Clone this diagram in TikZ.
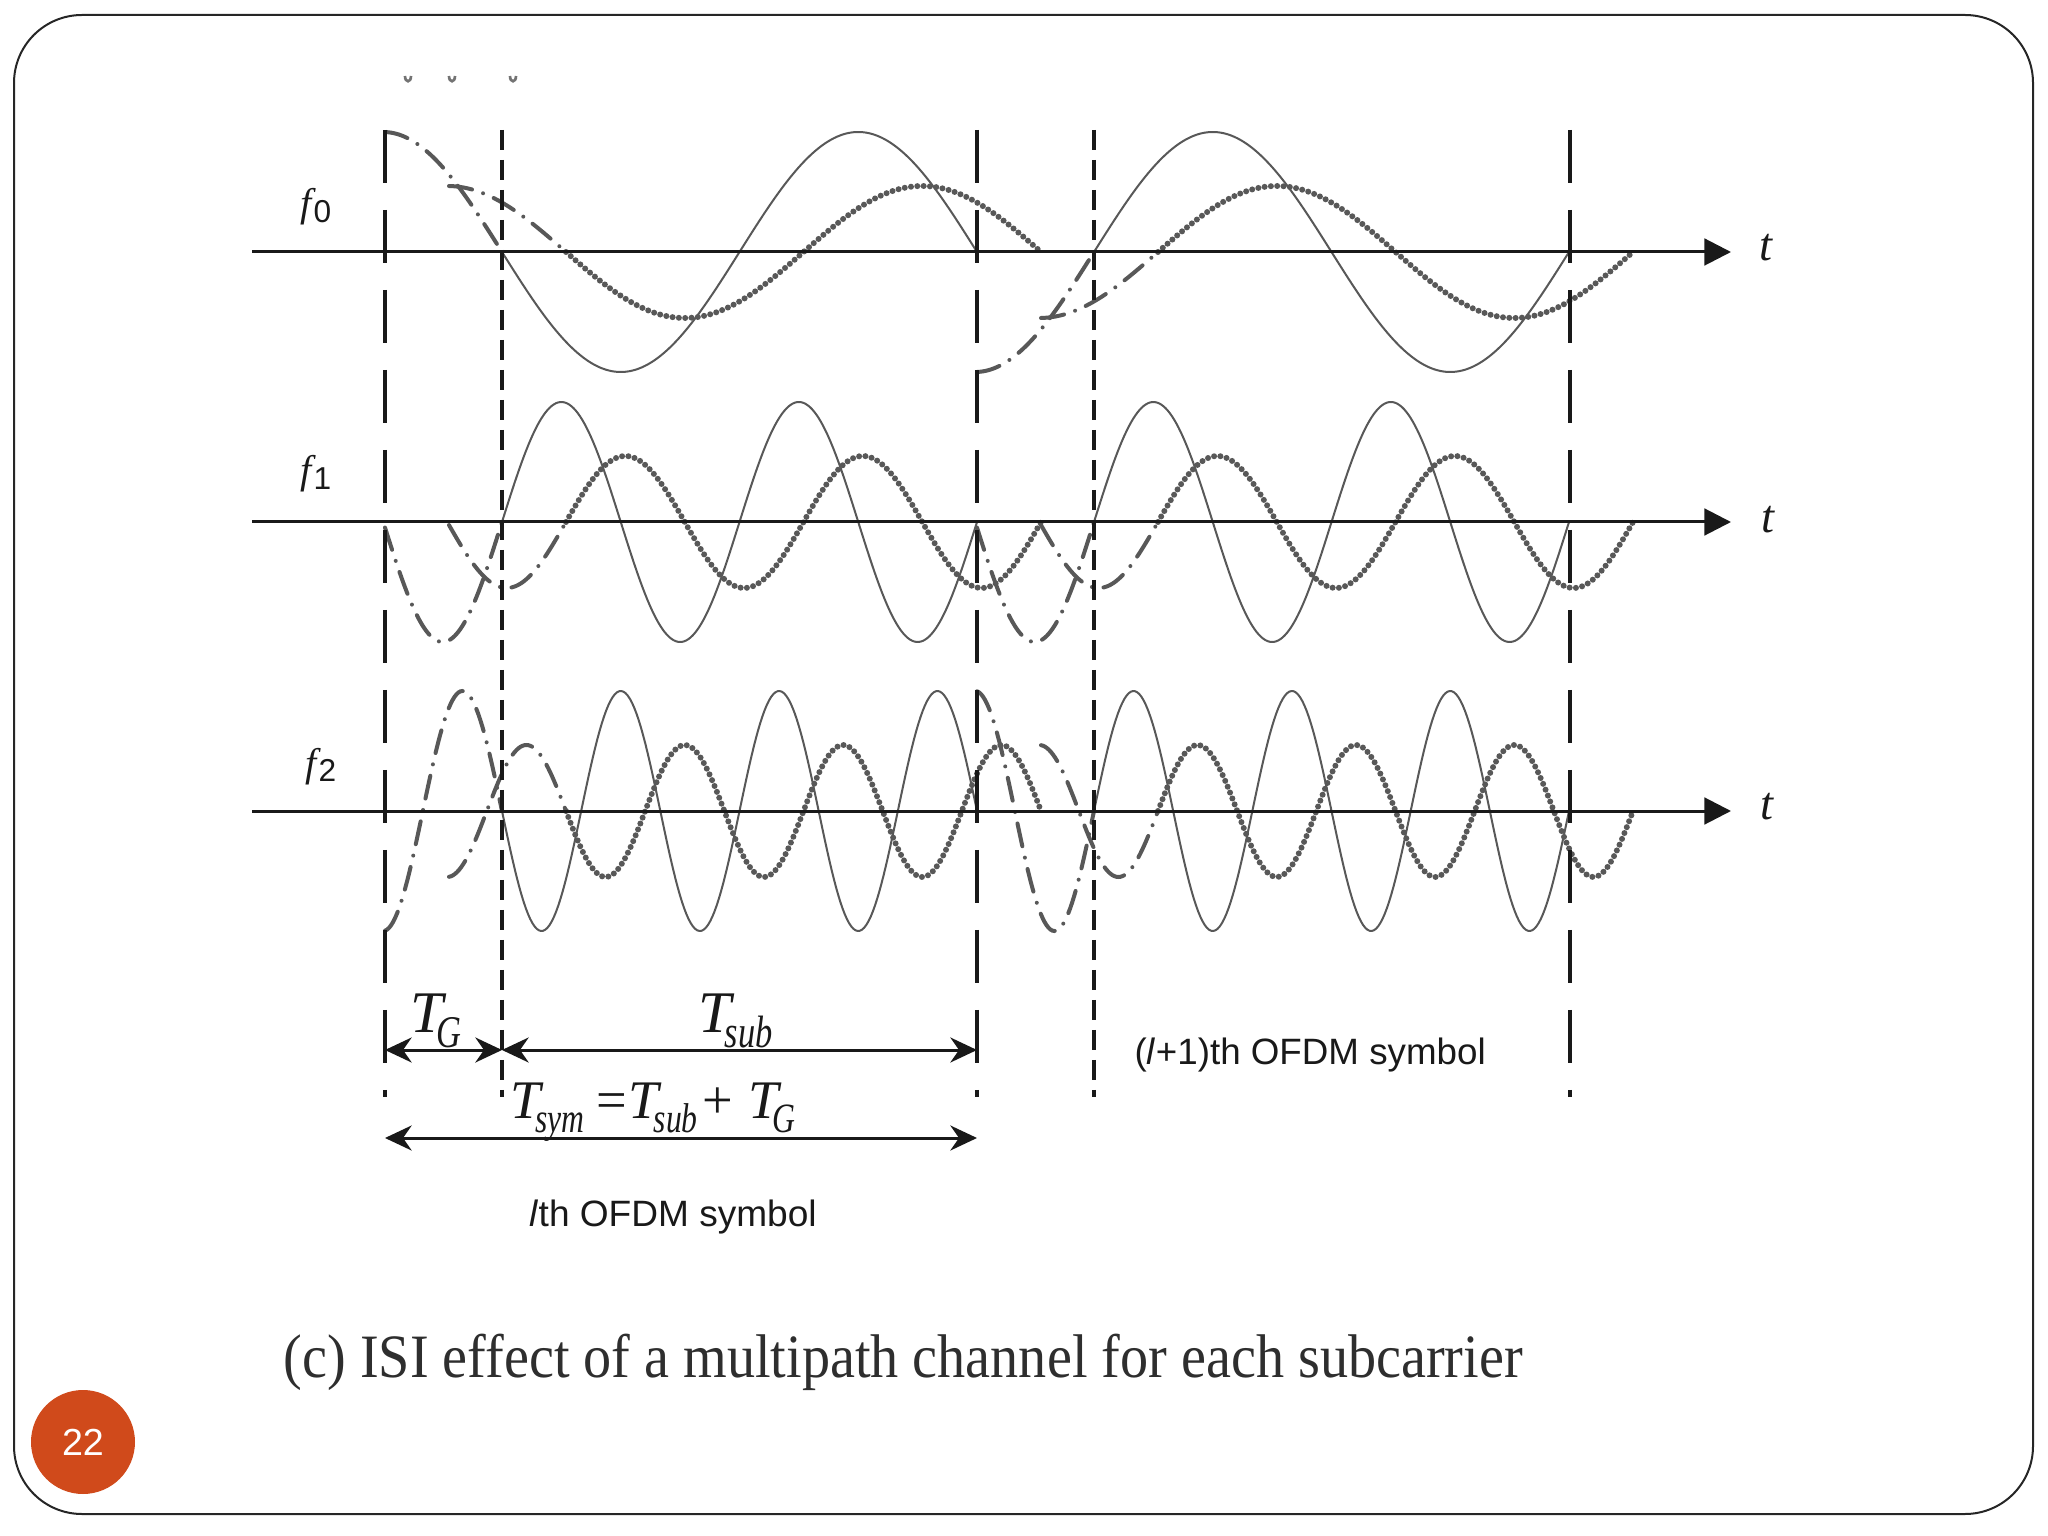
\documentclass[tikz,border=0pt]{standalone}
\usepackage{fontspec}
\usepackage{graphicx}
\setmainfont{Liberation Serif}
\newfontfamily\sansf{Liberation Sans}
\usetikzlibrary{arrows.meta}
\definecolor{pagecol}{RGB}{208,74,27}
\definecolor{wavec}{RGB}{88,88,88}
\definecolor{inkc}{RGB}{25,25,25}

% one subcarrier row: #1 axis y, #2 periods k, #3 sign symbol l, #4 sign symbol l+1
\newcommand\waverow[4]{%
  \draw[cpwave] plot[domain=385:502, samples=60] (\x, {#1 - (#3)*120*sin(((\x-502)/475)*360*#2)});
  \draw[solidwave] plot[domain=502:977, samples=220] (\x, {#1 - (#3)*120*sin(((\x-502)/475)*360*#2)});
  \draw[cpwave] plot[domain=449:566, samples=60] (\x, {#1 - (#3)*66*sin(((\x-566)/475)*360*#2)});
  \draw[dotwave] plot[domain=566:1041, samples=220] (\x, {#1 - (#3)*66*sin(((\x-566)/475)*360*#2)});
  \draw[cpwave] plot[domain=977:1094, samples=60] (\x, {#1 - (#4)*120*sin(((\x-1094)/475)*360*#2)});
  \draw[solidwave] plot[domain=1094:1569, samples=220] (\x, {#1 - (#4)*120*sin(((\x-1094)/475)*360*#2)});
  \draw[cpwave] plot[domain=1041:1158, samples=60] (\x, {#1 - (#4)*66*sin(((\x-1158)/475)*360*#2)});
  \draw[dotwave] plot[domain=1158:1633, samples=220] (\x, {#1 - (#4)*66*sin(((\x-1158)/475)*360*#2)});
}
% condensed italic subscript: #1 size, #2 text, #3 drop
\newcommand\sbs[3]{\raisebox{-#3}{\scalebox{0.76}[1]{\fontsize{#1}{#1}\selectfont\textit{#2}}}}

\begin{document}
\begin{tikzpicture}[x=0.3pt,y=-0.3pt,
  axisline/.style={line width=0.9pt, draw=inkc, -{Triangle[length=8pt,width=8pt]}},
  longdash/.style={line width=1.2pt, draw=inkc, dash pattern=on 16pt off 8pt},
  shortdash/.style={line width=1.2pt, draw=inkc, dash pattern=on 6pt off 3pt},
  solidwave/.style={line width=0.6pt, draw=wavec},
  dotwave/.style={line width=1.8pt, draw=wavec, line cap=round, dash pattern=on 0pt off 1.9pt},
  cpwave/.style={line width=1.2pt, draw=wavec, line cap=round, dash pattern=on 7pt off 3.5pt on 0pt off 3.5pt},
  dimarrow/.style={line width=0.9pt, draw=inkc, {Stealth[length=8pt,width=7.5pt]}-{Stealth[length=8pt,width=7.5pt]}},
  lbl/.style={inner sep=0pt, text=inkc},
  topmark/.style={line width=0.8pt, draw=black!55}
]
\useasboundingbox (0,0) rectangle (2048,1536);

% slide frame
\draw[line width=0.6pt, draw=black!85, rounded corners=20.4pt] (14,15) rectangle (2033,1514);

% cropped marks at top
\foreach \m in {408,452,513}{
  \draw[topmark] (\m-3,76) .. controls (\m-3,83) and (\m+3,83) .. (\m+3,76);
}

% waveforms
\waverow{252}{1}{-1}{1}
\waverow{522}{2}{1}{1}
\waverow{811}{3}{-1}{1}

% time axes
\coordinate (a0s) at (252,252); \coordinate (a0e) at (1731,252);
\coordinate (a1s) at (252,522); \coordinate (a1e) at (1731,522);
\coordinate (a2s) at (252,811); \coordinate (a2e) at (1731,811);
\draw[axisline] (a0s) -- (a0e);
\draw[axisline] (a1s) -- (a1e);
\draw[axisline] (a2s) -- (a2e);

% symbol boundaries
\coordinate (v1t) at (385,130);  \coordinate (v1b) at (385,1097);
\coordinate (v2t) at (502,130);  \coordinate (v2b) at (502,1097);
\coordinate (v3t) at (977,130);  \coordinate (v3b) at (977,1097);
\coordinate (v4t) at (1094,130); \coordinate (v4b) at (1094,1097);
\coordinate (v5t) at (1570,130); \coordinate (v5b) at (1570,1097);
\draw[longdash] (v1t) -- (v1b);
\draw[shortdash] (v2t) -- (v2b);
\draw[longdash] (v3t) -- (v3b);
\draw[shortdash] (v4t) -- (v4b);
\draw[longdash] (v5t) -- (v5b);

% dimension arrows
\coordinate (dg1) at (385,1050); \coordinate (dg2) at (502,1050);
\coordinate (ds2) at (977,1050);
\coordinate (dy1) at (385,1138); \coordinate (dy2) at (977,1138);
\draw[dimarrow] (dg1) -- (dg2);
\draw[dimarrow] (dg2) -- (ds2);
\draw[dimarrow] (dy1) -- (dy2);

% labels
\node[lbl, anchor=base west] (f0) at (300,217) {\fontsize{12}{12}\selectfont\textit{f}\kern-0.8pt\raisebox{-1.6pt}{\sansf\fontsize{9.5}{10}\selectfont 0}};
\node[lbl, anchor=base west] (f1) at (300,484) {\fontsize{12}{12}\selectfont\textit{f}\kern-0.8pt\raisebox{-1.6pt}{\sansf\fontsize{9.5}{10}\selectfont 1}};
\node[lbl, anchor=base west] (f2) at (305,776) {\fontsize{12}{12}\selectfont\textit{f}\kern-0.8pt\raisebox{-1.6pt}{\sansf\fontsize{9.5}{10}\selectfont 2}};
\node[lbl] (t0) at (1766,248) {\fontsize{14}{14}\selectfont\textit{t}};
\node[lbl] (t1) at (1768,520) {\fontsize{14}{14}\selectfont\textit{t}};
\node[lbl] (t2) at (1767,807) {\fontsize{14}{14}\selectfont\textit{t}};

\node[lbl, anchor=base west] (tg) at (410,1032) {\fontsize{17.7}{18}\selectfont\textit{T}\kern-3pt\sbs{13.6}{G}{4.5pt}};
\node[lbl, anchor=base west] (tsub) at (698,1032) {\fontsize{17.7}{18}\selectfont\textit{T}\kern-3pt\sbs{13.6}{sub}{4.5pt}};
\node[lbl, anchor=base west] (tsym) at (510,1118) {\fontsize{16.3}{18}\selectfont\textit{T}\kern-2.6pt\sbs{12.5}{sym}{4.2pt}\kern3.5pt=\kern0.6pt\textit{T}\kern-2.6pt\sbs{12.5}{sub}{4.2pt}\kern1.5pt+\kern4.5pt\textit{T}\kern-2.8pt\sbs{12.5}{G}{4.2pt}};

\node[lbl, anchor=base west] (sym1) at (529,1226) {\resizebox{86.1pt}{\height}{\sansf\fontsize{11}{12}\selectfont\textit{l}th OFDM symbol}};
\node[lbl, anchor=base west] (sym2) at (1134,1064) {\resizebox{105.3pt}{\height}{\sansf\fontsize{11}{12}\selectfont(\textit{l}+1)th OFDM symbol}};

\node[inner sep=0pt, text=black!82, anchor=base west] (cap) at (283,1377) {\resizebox{371.7pt}{\height}{\fontsize{18.5}{19}\selectfont (c) ISI effect of a multipath channel for each subcarrier}};

% slide number
\node[circle, fill=pagecol, minimum size=31.2pt, inner sep=0pt, text=white] (pgnum) at (83,1442) {\sansf\fontsize{11.3}{12}\selectfont 22};
\end{tikzpicture}
\end{document}
